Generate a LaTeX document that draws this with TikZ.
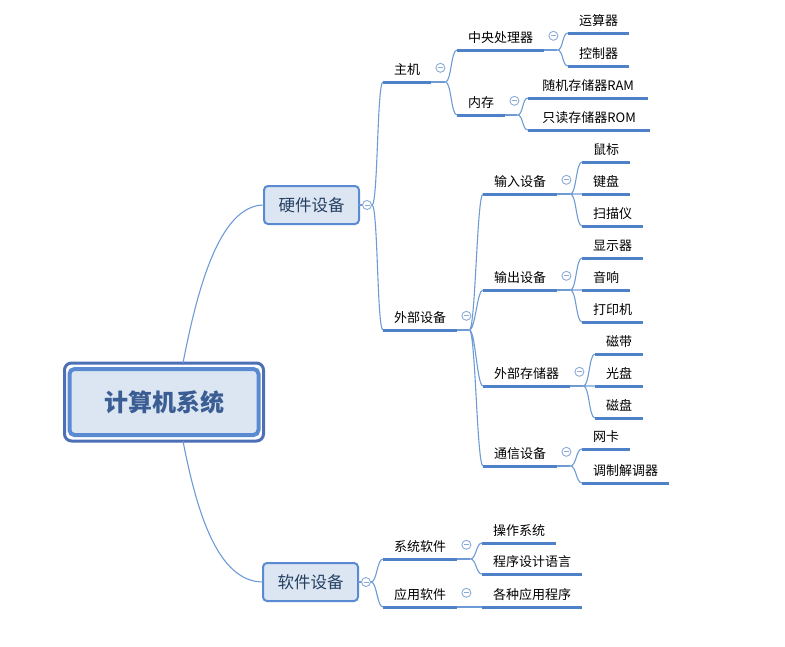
\documentclass[tikz,border=0pt]{standalone}
\usepackage{fontspec}
\setmainfont{Noto Sans CJK SC}
\usepackage{xcolor}
\usetikzlibrary{calc}

\definecolor{trait}{HTML}{4F81C8}
\definecolor{lienc}{HTML}{6E9BD6}
\definecolor{fond}{HTML}{DCE6F2}
\definecolor{bord}{HTML}{5A8BD2}
\definecolor{bleucadre}{HTML}{4C6FB5}
\definecolor{titre}{HTML}{3A5D93}
\definecolor{texte}{HTML}{243F62}
\definecolor{rond}{HTML}{8AAAD8}

\tikzset{
  cadre/.style={draw=bleucadre, line width=3pt, rounded corners=7pt, outer sep=0pt,
    minimum width=199pt, minimum height=78pt},
  racine/.style={draw=bord, line width=4pt, fill=fond, rounded corners=5pt, outer sep=0pt,
    minimum width=189pt, minimum height=66pt, text=titre,
    font=\fontsize{24}{28}\selectfont\bfseries},
  branche/.style={draw=bord, line width=2pt, fill=fond, rounded corners=4pt, outer sep=0pt,
    minimum width=95pt, minimum height=38pt, text=texte,
    font=\fontsize{16.5}{20}\selectfont},
  souligne/.style={draw=trait, line width=3pt},
  sujet/.style={anchor=south west, inner xsep=11pt, inner ysep=4pt,
    text height=10pt, text depth=3pt, font=\fontsize{13}{16}\selectfont,
    append after command={(\tikzlastnode.south west) edge[souligne] (\tikzlastnode.south east)}},
  lien/.style={draw=lienc, line width=1.1pt},
  courbe/.style={to path={.. controls ($(\tikztostart)+(6,0)$) and ($(\tikztotarget)+(-6,0)$) .. (\tikztotarget)}},
  replier/.style={circle, draw=rond, fill=white, line width=0.9pt, minimum size=9pt, inner sep=0pt,
    path picture={\draw[rond, line width=0.9pt] ([xshift=-2.5pt]path picture bounding box.center)
      -- ([xshift=2.5pt]path picture bounding box.center);}}
}

\begin{document}
\begin{tikzpicture}[x=1pt, y=-1pt]
    \useasboundingbox (0,0) rectangle (785,646);

    % Racine
    \node[cadre] (racine) at (164,402) {};
    \node[racine] (titre) at (racine) {计算机系统};

    % Branches principales
    \node[branche] (materiel) at (311.5,205) {硬件设备};
    \node[branche] (logiciel) at (310.5,582) {软件设备};

    \draw[lien] ([xshift=19pt]racine.north) .. controls +(14,-72) and +(-45,0) .. (materiel.west);
    \draw[lien] ([xshift=19pt]racine.south) .. controls +(14,72) and +(-45,0) .. (logiciel.west);

    % Matériel
    \node[sujet] (hote) at (383,82) {主机};
    \node[sujet] (externe) at (383,330) {外部设备};

    \node[sujet] (cpu) at (457,50) {中央处理器};
    \node[sujet] (memoire) at (457,115) {内存};
    \node[sujet] (ual) at (568,33) {运算器};
    \node[sujet] (ctrl) at (568,66) {控制器};
    \node[sujet, minimum width=120pt] (ram) at (528,98) {随机存储器RAM};
    \node[sujet, minimum width=122pt] (rom) at (528,130) {只读存储器ROM};

    \node[sujet] (entree) at (483,194) {输入设备};
    \node[sujet] (sortie) at (483,290) {输出设备};
    \node[sujet] (stockage) at (483,386) {外部存储器};
    \node[sujet] (comm) at (483,466) {通信设备};

    \node[sujet] (souris) at (582,162) {鼠标};
    \node[sujet] (clavier) at (582,194) {键盘};
    \node[sujet] (scanner) at (582,226) {扫描仪};
    \node[sujet] (ecran) at (582,258) {显示器};
    \node[sujet] (son) at (582,290) {音响};
    \node[sujet] (imprimante) at (582,322) {打印机};
    \node[sujet] (bande) at (595,354) {磁带};
    \node[sujet] (optique) at (595,386) {光盘};
    \node[sujet] (disque) at (595,418) {磁盘};
    \node[sujet] (reseau) at (582,449) {网卡};
    \node[sujet] (modem) at (582,483) {调制解调器};

    % Logiciel
    \node[sujet] (systeme) at (383,559) {系统软件};
    \node[sujet] (appli) at (383,607) {应用软件};
    \node[sujet] (os) at (482,543) {操作系统};
    \node[sujet] (langage) at (482,574) {程序设计语言};
    \node[sujet] (programmes) at (482,607) {各种应用程序};

    % Points de branchement
    \coordinate (b-materiel) at ([xshift=13pt]materiel.east);
    \coordinate (b-logiciel) at ([xshift=13pt]logiciel.east);
    \coordinate (b-hote) at ([xshift=14pt]hote.south east);
    \coordinate (b-cpu) at ([xshift=13pt]cpu.south east);
    \coordinate (b-memoire) at ([xshift=12pt]memoire.south east);
    \coordinate (b-externe) at ([xshift=12pt]externe.south east);
    \coordinate (b-entree) at ([xshift=13pt]entree.south east);
    \coordinate (b-sortie) at ([xshift=13pt]sortie.south east);
    \coordinate (b-stockage) at ([xshift=13pt]stockage.south east);
    \coordinate (b-comm) at ([xshift=13pt]comm.south east);
    \coordinate (b-systeme) at ([xshift=13pt]systeme.south east);

    % Liens
    \draw[lien] (materiel.east) -- (b-materiel);
    \draw[lien] (b-materiel) to[courbe] (hote.south west) (b-materiel) to[courbe] (externe.south west);
    \draw[lien] (hote.south east) -- (b-hote);
    \draw[lien] (b-hote) to[courbe] (cpu.south west) (b-hote) to[courbe] (memoire.south west);
    \draw[lien] (cpu.south east) -- (b-cpu);
    \draw[lien] (b-cpu) to[courbe] (ual.south west) (b-cpu) to[courbe] (ctrl.south west);
    \draw[lien] (memoire.south east) -- (b-memoire);
    \draw[lien] (b-memoire) to[courbe] (ram.south west) (b-memoire) to[courbe] (rom.south west);

    \draw[lien] (externe.south east) -- (b-externe);
    \draw[lien] (b-externe) to[courbe] (entree.south west) (b-externe) to[courbe] (sortie.south west);
    \draw[lien] (b-externe) to[courbe] (stockage.south west) (b-externe) to[courbe] (comm.south west);
    \draw[lien] (entree.south east) -- (b-entree);
    \draw[lien] (b-entree) to[courbe] (souris.south west) (b-entree) to[courbe] (clavier.south west);
    \draw[lien] (b-entree) to[courbe] (scanner.south west);
    \draw[lien] (sortie.south east) -- (b-sortie);
    \draw[lien] (b-sortie) to[courbe] (ecran.south west) (b-sortie) to[courbe] (son.south west);
    \draw[lien] (b-sortie) to[courbe] (imprimante.south west);
    \draw[lien] (stockage.south east) -- (b-stockage);
    \draw[lien] (b-stockage) to[courbe] (bande.south west) (b-stockage) to[courbe] (optique.south west);
    \draw[lien] (b-stockage) to[courbe] (disque.south west);
    \draw[lien] (comm.south east) -- (b-comm);
    \draw[lien] (b-comm) to[courbe] (reseau.south west) (b-comm) to[courbe] (modem.south west);

    \draw[lien] (logiciel.east) -- (b-logiciel);
    \draw[lien] (b-logiciel) to[courbe] (systeme.south west) (b-logiciel) to[courbe] (appli.south west);
    \draw[lien] (systeme.south east) -- (b-systeme);
    \draw[lien] (b-systeme) to[courbe] (os.south west) (b-systeme) to[courbe] (langage.south west);
    \draw[lien] (appli.south east) -- (programmes.south west);

    % Boutons de repli
    \node[replier] (r-materiel) at ([xshift=8pt]materiel.east) {};
    \node[replier] (r-logiciel) at ([xshift=8pt]logiciel.east) {};
    \node[replier] (r-hote) at ($(hote.east)+(9,-3.5)$) {};
    \node[replier] (r-cpu) at ($(cpu.east)+(9,-3.5)$) {};
    \node[replier] (r-memoire) at ($(memoire.east)+(9,-3.5)$) {};
    \node[replier] (r-externe) at ($(externe.east)+(9,-3.5)$) {};
    \node[replier] (r-entree) at ($(entree.east)+(9,-3.5)$) {};
    \node[replier] (r-sortie) at ($(sortie.east)+(9,-3.5)$) {};
    \node[replier] (r-stockage) at ($(stockage.east)+(9,-3.5)$) {};
    \node[replier] (r-comm) at ($(comm.east)+(9,-3.5)$) {};
    \node[replier] (r-systeme) at ($(systeme.east)+(9,-3.5)$) {};
    \node[replier] (r-appli) at ($(appli.east)+(9,-3.5)$) {};
\end{tikzpicture}
\end{document}
